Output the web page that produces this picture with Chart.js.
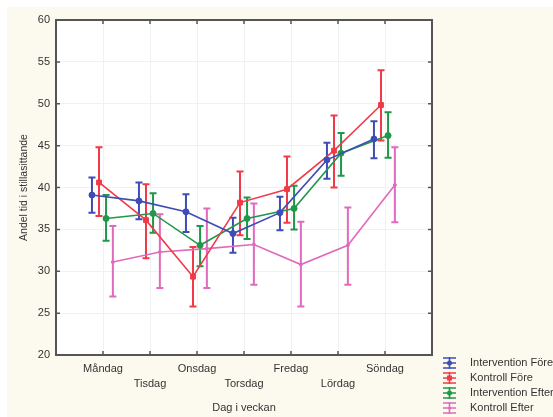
<!DOCTYPE html>
<html>
<head>
<meta charset="utf-8">
<script src="https://cdn.jsdelivr.net/npm/chart.js@4"></script>
<style>
  html, body { margin: 0; padding: 0; background: #fff; }
  #wrap { width: 553px; height: 417px; }
</style>
</head>
<body>
<div id="wrap"><canvas id="chart" width="553" height="417"></canvas></div>
<script>
const days = ['Måndag', 'Tisdag', 'Onsdag', 'Torsdag', 'Fredag', 'Lördag', 'Söndag'];
const seriesNames = ['Intervention Före', 'Kontroll Före', 'Intervention Efter', 'Kontroll Efter'];

// means
const interventionFore = [39.1, 38.4, 37.1, 34.5, 37.0, 43.3, 45.8];
const kontrollFore = [40.6, 36.1, 29.35, 38.2, 39.8, 44.4, 49.85];
const interventionEfter = [36.3, 36.9, 33.1, 36.3, 37.5, 44.1, 46.2];
const kontrollEfter = [31.1, 32.3, 32.7, 33.2, 30.8, 33.1, 40.3];

// error bar ends
const interventionForeLo = [37.0, 36.2, 34.7, 32.2, 34.9, 41.05, 43.5];
const interventionForeHi = [41.2, 40.6, 39.2, 36.4, 38.9, 45.35, 47.9];
const kontrollForeLo = [36.6, 31.55, 25.8, 34.3, 35.8, 40.0, 45.6];
const kontrollForeHi = [44.8, 40.4, 32.9, 41.9, 43.7, 48.6, 54.0];
const interventionEfterLo = [33.65, 34.6, 30.6, 33.85, 35.0, 41.4, 43.55];
const interventionEfterHi = [39.1, 39.3, 35.4, 38.8, 40.2, 46.5, 49.0];
const kontrollEfterLo = [27.0, 28.0, 28.0, 28.4, 25.8, 28.4, 35.85];
const kontrollEfterHi = [35.4, 36.8, 37.5, 38.1, 35.9, 37.6, 44.8];

const yTicks = [20, 25, 30, 35, 40, 45, 50, 55, 60];

const FONT = "'Liberation Sans', Arial, sans-serif";
const TEXT = '#333333';
const colors = ['#3d4db5', '#f03a48', '#20984a', '#e06abd'];
const dodge = [-0.235, -0.085, 0.065, 0.21];
const shapes = ['circle', 'rect', 'circle', 'circle'];
const radii = [3, 3.4, 3, 1.5];

const means = [interventionFore, kontrollFore, interventionEfter, kontrollEfter];
const lows = [interventionForeLo, kontrollForeLo, interventionEfterLo, kontrollEfterLo];
const highs = [interventionForeHi, kontrollForeHi, interventionEfterHi, kontrollEfterHi];

const datasets = means.map((vals, s) => ({
  label: seriesNames[s],
  data: vals.map((v, i) => ({ x: i + 1 + dodge[s], y: v })),
  lo: lows[s],
  hi: highs[s],
  borderColor: colors[s],
  backgroundColor: colors[s],
  borderWidth: 1.6,
  pointStyle: shapes[s],
  pointRadius: radii[s],
  pointBorderWidth: 1,
  tension: 0,
  fill: false,
}));

// cream page with a white plot area
const backdrop = {
  id: 'backdrop',
  beforeDraw(chart) {
    const { ctx, chartArea: a } = chart;
    ctx.save();
    ctx.fillStyle = '#ffffff';
    ctx.fillRect(0, 0, chart.width, chart.height);
    ctx.fillStyle = '#fcfaee';
    ctx.fillRect(7, 7, chart.width - 7, chart.height - 7);
    ctx.fillStyle = '#ffffff';
    ctx.fillRect(a.left, a.top, a.right - a.left, a.bottom - a.top);
    ctx.restore();
  }
};

const errorBars = {
  id: 'errorBars',
  beforeDatasetsDraw(chart) {
    const { ctx, scales: { x, y } } = chart;
    ctx.save();
    chart.data.datasets.forEach((ds) => {
      ctx.strokeStyle = ds.borderColor;
      ctx.lineWidth = 2;
      ds.data.forEach((p, i) => {
        const px = x.getPixelForValue(p.x);
        const top = y.getPixelForValue(ds.hi[i]);
        const bot = y.getPixelForValue(ds.lo[i]);
        ctx.beginPath();
        ctx.moveTo(px, top); ctx.lineTo(px, bot);
        ctx.moveTo(px - 3.5, top); ctx.lineTo(px + 3.5, top);
        ctx.moveTo(px - 3.5, bot); ctx.lineTo(px + 3.5, bot);
        ctx.stroke();
      });
    });
    ctx.restore();
  }
};

// frame, inward ticks and the legend in the lower right corner
const frame = {
  id: 'frame',
  afterDraw(chart) {
    const { ctx, chartArea: a, scales: { x, y } } = chart;
    ctx.save();
    ctx.strokeStyle = '#555';
    ctx.lineWidth = 2;
    ctx.strokeRect(a.left, a.top, a.right - a.left, a.bottom - a.top);
    ctx.lineWidth = 1.5;
    ctx.beginPath();
    for (let i = 1; i <= days.length; i++) {
      const px = x.getPixelForValue(i);
      ctx.moveTo(px, a.bottom); ctx.lineTo(px, a.bottom - 4);
      ctx.moveTo(px, a.top); ctx.lineTo(px, a.top + 4);
    }
    yTicks.forEach((v) => {
      const py = y.getPixelForValue(v);
      ctx.moveTo(a.left, py); ctx.lineTo(a.left + 4, py);
      ctx.moveTo(a.right, py); ctx.lineTo(a.right - 4, py);
    });
    ctx.stroke();

    chart.data.datasets.forEach((ds, s) => {
      const cy = 363 + s * 15;
      const cx = 449.5;
      ctx.strokeStyle = ds.borderColor;
      ctx.lineWidth = 1.6;
      ctx.beginPath();
      ctx.moveTo(cx, cy - 6); ctx.lineTo(cx, cy + 6);
      ctx.moveTo(cx - 6.5, cy - 5); ctx.lineTo(cx + 6.5, cy - 5);
      ctx.moveTo(cx - 6.5, cy); ctx.lineTo(cx + 6.5, cy);
      ctx.moveTo(cx - 6.5, cy + 5); ctx.lineTo(cx + 6.5, cy + 5);
      ctx.stroke();
      ctx.fillStyle = ds.borderColor;
      ctx.beginPath();
      if (ds.pointStyle === 'rect') ctx.rect(cx - 2.5, cy - 2.5, 5, 5);
      else ctx.arc(cx, cy, ds.pointRadius > 2 ? 2.5 : 1.5, 0, Math.PI * 2);
      ctx.fill();
      ctx.fillStyle = TEXT;
      ctx.font = '11px ' + FONT;
      ctx.textBaseline = 'middle';
      ctx.textAlign = 'left';
      ctx.fillText(ds.label, 470, cy);
    });
    ctx.restore();
  }
};

new Chart(document.getElementById('chart'), {
  type: 'line',
  data: { datasets },
  plugins: [backdrop, errorBars, frame],
  options: {
    responsive: false,
    animation: false,
    layout: { padding: { top: 20, right: 121, left: 0, bottom: 0 } },
    plugins: {
      legend: { display: false },
      tooltip: { enabled: false },
    },
    scales: {
      x: {
        type: 'linear',
        min: 0,
        max: 8,
        afterFit: (s) => { s.height = 62; },
        afterBuildTicks: (s) => { s.ticks = [0, 1, 2, 3, 4, 5, 6, 7, 8].map((v) => ({ value: v })); },
        grid: { color: '#edf2f2', drawTicks: false },
        border: { display: false },
        ticks: {
          autoSkip: false,
          maxRotation: 0,
          padding: 7,
          color: TEXT,
          font: { family: FONT, size: 11, lineHeight: 1.35 },
          callback: (v) => {
            if (v < 1 || v > days.length) return '';
            return v % 2 === 1 ? [days[v - 1]] : ['', days[v - 1]];
          },
        },
        title: {
          display: true,
          text: 'Dag i veckan',
          color: TEXT,
          font: { family: FONT, size: 11 },
          padding: { top: 0, bottom: 2 },
        },
      },
      y: {
        min: 20,
        max: 60,
        afterFit: (s) => { s.width = 56; },
        grid: { color: '#edf2f2', drawTicks: false },
        border: { display: false },
        ticks: {
          stepSize: 5,
          padding: 6,
          color: TEXT,
          font: { family: FONT, size: 11 },
        },
        title: {
          display: true,
          text: 'Andel tid i stillasittande',
          color: TEXT,
          font: { family: FONT, size: 10.5 },
          padding: { top: 18, bottom: 0 },
        },
      },
    },
  },
});
</script>
</body>
</html>
